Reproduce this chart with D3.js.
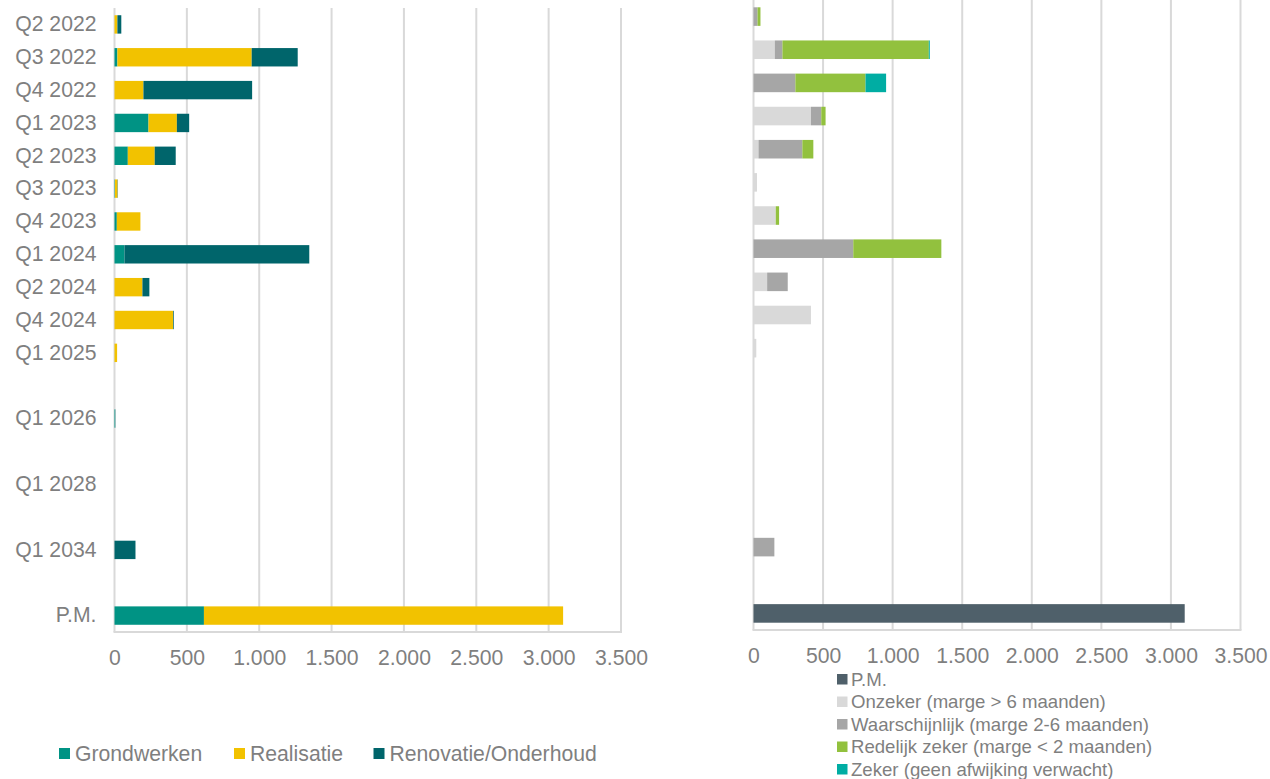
<!DOCTYPE html>
<html>
<head>
<meta charset="utf-8">
<script src="https://cdn.jsdelivr.net/npm/d3@7"></script>
<style>
  html, body { margin: 0; padding: 0; background: #fff; }
  svg { display: block; font-family: "Liberation Sans", Arial, sans-serif; }
</style>
</head>
<body>
<svg id="chart" width="1270" height="779"></svg>
<script>
// ---------- DATA ----------
const categories = ["Q2 2022","Q3 2022","Q4 2022","Q1 2023","Q2 2023","Q3 2023","Q4 2023","Q1 2024","Q2 2024","Q4 2024","Q1 2025","","Q1 2026","","Q1 2028","","Q1 2034","","P.M."];

// Left chart (per activity type)
const grondwerken = [0, 20, 0, 235, 92, 3, 16, 69, 0, 0, 0, 0, 4, 0, 0, 0, 0, 0, 618];
const realisatie  = [20, 928, 200, 196, 186, 18, 163, 0, 193, 405, 18, 0, 0, 0, 0, 0, 0, 0, 2482];
const renovatie   = [27, 318, 751, 85, 145, 2, 0, 1277, 48, 5, 0, 0, 2, 0, 0, 0, 145, 0, 0];
const leftSeriesNames = ["Grondwerken", "Realisatie", "Renovatie/Onderhoud"];

// Right chart (per certainty)
const pm             = [0, 0, 0, 0, 0, 0, 0, 0, 0, 0, 0, 0, 0, 0, 0, 0, 0, 0, 3099];
const onzeker        = [0, 153, 0, 413, 36, 25, 160, 0, 98, 413, 20, 0, 4, 0, 0, 0, 0, 0, 0];
const waarschijnlijk = [29, 55, 301, 74, 315, 0, 0, 717, 148, 0, 0, 0, 0, 0, 0, 0, 150, 0, 0];
const redelijk       = [21, 1052, 504, 31, 79, 0, 24, 633, 0, 0, 0, 0, 0, 0, 0, 0, 0, 0, 0];
const zeker          = [0, 7, 148, 0, 0, 0, 0, 0, 0, 0, 0, 0, 0, 0, 0, 0, 0, 0, 0];
const rightSeriesNames = ["P.M.", "Onzeker (marge > 6 maanden)", "Waarschijnlijk (marge 2-6 maanden)", "Redelijk zeker (marge < 2 maanden)", "Zeker (geen afwijking verwacht)"];

const xTicks = [0, 500, 1000, 1500, 2000, 2500, 3000, 3500];

// ---------- STYLE ----------
const leftColors  = ["#009384", "#F2C200", "#00656B"];
const rightColors = ["#4F606A", "#D9D9D9", "#A6A6A6", "#92C13E", "#00ADA3"];
const textColor = "#7F7F7F";
const gridColor = "#D9D9D9";
const FONT = "'Liberation Sans', Arial, sans-serif";

const nl = d3.formatLocale({decimal: ",", thousands: ".", grouping: [3], currency: ["€", ""]});
const fmt = nl.format(",d");

const svg = d3.select("#chart");

function drawPanel(opts) {
  const {x0, x1, yTop, yBottom, series, names, colors, showLabels, tickY} = opts;
  const rows = categories.map((c, i) => {
    const o = {idx: i};
    names.forEach((n, k) => o[n] = series[k][i]);
    return o;
  });
  const x = d3.scaleLinear().domain([0, 3500]).range([x0, x1]);
  const y = d3.scaleBand().domain(d3.range(categories.length)).range([yTop, yBottom]).paddingInner(0.44).paddingOuter(0.22);
  const g = svg.append("g");

  g.append("g").selectAll("line").data(xTicks).join("line")
    .attr("x1", d => x(d)).attr("x2", d => x(d))
    .attr("y1", yTop).attr("y2", yBottom)
    .attr("stroke", gridColor).attr("stroke-width", 2);
  g.append("line").attr("x1", x(0) - 1).attr("x2", x(3500) + 1)
    .attr("y1", yBottom).attr("y2", yBottom)
    .attr("stroke", gridColor).attr("stroke-width", 2);

  const stack = d3.stack().keys(names)(rows);
  g.append("g").selectAll("g").data(stack).join("g")
    .attr("fill", (d, i) => colors[i])
    .selectAll("rect").data(d => d).join("rect")
    .attr("x", d => x(d[0]))
    .attr("width", d => Math.max(0, x(d[1]) - x(d[0])))
    .attr("y", d => y(d.data.idx))
    .attr("height", y.bandwidth());

  const ax = g.append("g").attr("transform", `translate(0,${tickY})`)
    .call(d3.axisBottom(x).tickValues(xTicks).tickFormat(fmt).tickSize(0).tickPadding(0));
  ax.select(".domain").remove();
  ax.selectAll("text").attr("fill", textColor).attr("font-size", 21.2)
    .attr("font-family", FONT)
    .attr("dy", "0.35em").attr("y", 0);

  if (showLabels) {
    const ay = g.append("g").attr("transform", `translate(${x0 - 18},0)`)
      .call(d3.axisLeft(y).tickFormat(i => categories[i]).tickSize(0).tickPadding(0));
    ay.select(".domain").remove();
    ay.selectAll("text").attr("fill", textColor).attr("font-size", 21.2)
      .attr("font-family", FONT);
  }
}

drawPanel({
  x0: 114.5, x1: 621, yTop: 8, yBottom: 632,
  series: [grondwerken, realisatie, renovatie], names: leftSeriesNames, colors: leftColors,
  showLabels: true, tickY: 658
});

drawPanel({
  x0: 753.5, x1: 1240.5, yTop: 0, yBottom: 630,
  series: [pm, onzeker, waarschijnlijk, redelijk, zeker], names: rightSeriesNames, colors: rightColors,
  showLabels: false, tickY: 656
});

// ---------- LEGENDS ----------
const leftLegendX = [59, 234, 373.5];
const lg = svg.append("g");
leftSeriesNames.forEach((n, i) => {
  lg.append("rect").attr("x", leftLegendX[i]).attr("y", 748).attr("width", 11).attr("height", 11).attr("fill", leftColors[i]);
  lg.append("text").attr("x", leftLegendX[i] + 16).attr("y", 753.5).attr("dy", "0.35em")
    .attr("font-family", FONT).attr("fill", textColor).attr("font-size", 21.2).text(n);
});

const rg = svg.append("g");
const rightLegendY = [679, 701.5, 724, 746.5, 769];
rightSeriesNames.forEach((n, i) => {
  rg.append("rect").attr("x", 837).attr("y", rightLegendY[i] - 5).attr("width", 10.5).attr("height", 10.5).attr("fill", rightColors[i]);
  rg.append("text").attr("x", 851).attr("y", rightLegendY[i]).attr("dy", "0.35em")
    .attr("font-family", FONT).attr("fill", textColor).attr("font-size", 18.6).text(n);
});
</script>
</body>
</html>
